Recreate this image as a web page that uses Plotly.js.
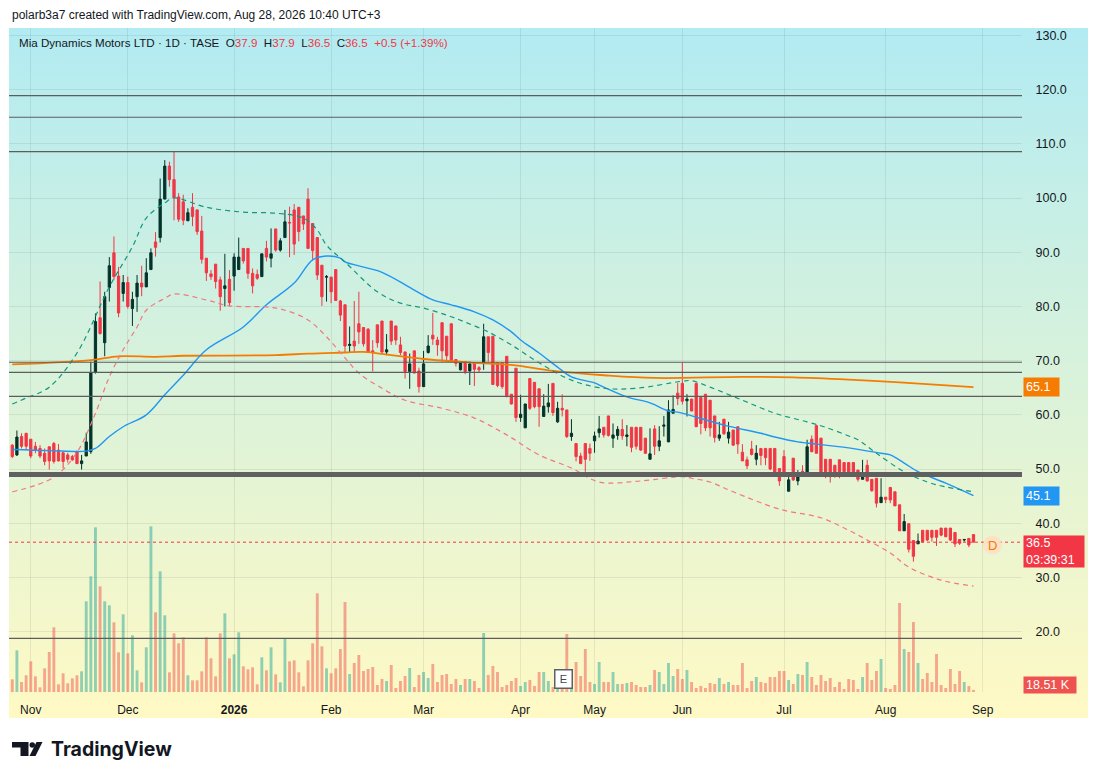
<!DOCTYPE html>
<html>
<head>
<meta charset="utf-8">
<script src="https://cdn.plot.ly/plotly-3.0.1.min.js"></script>
<style>
  html, body { margin: 0; padding: 0; background: #ffffff; }
  #wrap { position: relative; width: 1098px; height: 780px; }
  #bg { position: absolute; left: 9px; top: 28px; width: 1079px; height: 690px;
        background: linear-gradient(#b2ebf2, #fff9c4); }
  #chart { position: absolute; left: 0; top: 0; width: 1098px; height: 780px; }
</style>
</head>
<body>
<div id="wrap"><div id="bg"></div><div id="chart"></div></div>
<script>
// daily bars, Nov 2025 - Aug 28 2026 (one bar per trading day)
var opens = [54.4,52.6,56.0,56.6,55.5,54.2,53.8,52.9,54.1,54.7,53.5,53.0,52.6,52.3,53.2,51.0,52.4,53.2,67.8,77.9,
  73.3,83.5,89.9,85.6,82.4,84.4,79.6,81.8,84.3,83.6,86.8,91.9,92.7,99.8,105.9,103.4,100.2,99.3,95.8,98.3,
  97.8,93.9,88.9,86.0,87.8,84.9,83.3,85.0,85.6,86.8,90.7,90.7,86.1,85.9,85.5,90.7,88.9,94.3,90.4,92.7,
  95.5,97.8,98.3,96.7,99.8,95.3,92.7,87.6,85.4,85.4,86.8,81.0,80.3,72.8,73.6,76.8,76.1,75.8,71.8,76.6,
  77.3,71.6,77.3,76.4,72.9,71.6,68.0,71.8,68.1,65.2,71.5,74.7,73.8,77.0,74.5,76.8,70.2,68.3,69.8,68.1,
  69.6,68.7,69.6,74.4,74.5,69.6,69.6,70.8,63.8,68.6,59.5,57.6,66.7,66.0,64.8,59.7,61.5,65.8,58.7,61.2,
  60.9,56.0,54.7,52.4,54.7,53.8,55.2,56.7,57.7,59.8,55.7,56.2,57.3,56.0,57.7,57.7,57.7,55.7,51.8,57.4,
  54.2,57.9,55.0,60.3,64.0,65.8,62.6,62.9,65.8,63.2,63.8,62.7,59.8,55.7,59.2,55.7,57.2,57.8,53.1,51.7,
  53.7,51.8,53.8,53.8,53.8,53.8,50.1,52.3,45.9,52.0,47.8,49.6,49.2,55.5,58.0,55.7,51.8,51.8,50.7,51.7,
  51.2,51.2,51.2,49.8,48.1,50.7,48.1,48.3,43.8,44.8,46.6,45.8,43.4,38.6,39.9,36.8,36.2,38.7,38.7,38.7,
  38.7,39.1,39.1,39.1,38.3,37.0,36.9,37.2,37.9];
var highs = [54.6,57.1,56.6,56.6,55.5,55.0,54.4,53.8,54.2,55.0,54.6,53.2,53.0,52.6,53.4,52.6,56.7,69.8,78.7,84.6,
  82.7,89.1,92.9,87.3,85.8,85.5,82.7,85.8,87.5,88.9,90.7,93.7,103.6,107.0,106.7,108.5,100.9,100.6,98.1,100.9,
  97.9,96.7,88.9,86.7,87.8,85.5,89.7,86.7,89.8,92.7,90.7,90.7,87.0,86.8,89.7,92.1,94.4,94.3,92.6,97.8,
  98.4,98.9,98.3,96.7,101.8,95.3,92.7,87.6,85.8,85.5,86.8,81.2,80.3,76.3,81.0,82.7,76.1,76.0,73.8,76.6,
  77.3,74.9,77.3,76.4,74.4,71.6,71.3,71.8,68.7,71.8,74.7,78.8,74.4,77.0,74.5,76.8,70.2,69.6,69.8,69.8,
  69.6,69.0,76.8,74.4,74.5,69.6,69.6,70.8,63.8,68.6,63.7,62.0,66.7,66.0,64.8,63.8,65.7,65.8,62.4,63.8,
  60.9,59.2,54.7,53.0,54.7,54.7,56.9,59.8,57.7,59.8,58.4,57.9,59.2,58.1,57.7,57.7,57.7,55.7,57.5,58.1,
  57.9,59.8,62.7,63.6,65.9,69.7,63.8,62.9,65.8,63.2,63.8,62.7,59.8,58.7,59.2,58.7,57.2,57.8,54.6,52.3,
  55.2,54.4,53.8,53.8,53.8,53.8,50.1,53.5,48.8,52.0,49.8,50.7,55.4,56.2,58.2,55.7,51.8,51.8,50.7,51.7,
  51.2,51.2,51.2,49.8,51.7,51.7,48.1,48.3,48.3,44.8,46.6,45.8,43.4,41.7,39.9,36.8,38.1,38.7,38.7,38.7,
  38.7,39.1,39.1,39.1,38.3,37.0,37.0,37.2,37.9];
var lows = [52.0,52.4,53.8,53.6,52.0,52.9,52.0,50.7,49.9,51.0,51.4,50.1,51.2,51.5,50.9,49.9,52.4,52.8,67.6,74.8,
  70.8,80.9,84.9,78.0,80.9,79.6,76.4,79.0,81.9,83.6,86.8,89.2,91.8,99.8,102.1,95.9,95.6,95.0,95.8,94.8,
  93.2,87.9,84.7,84.9,83.3,79.2,80.0,80.0,82.9,86.8,87.9,85.1,82.4,84.9,85.5,88.3,87.2,90.1,90.1,92.7,
  89.1,89.5,92.0,94.1,90.7,88.6,84.9,80.1,80.9,80.6,81.1,77.3,71.5,71.5,71.5,73.1,72.6,71.5,68.0,72.4,
  71.3,71.0,72.9,72.9,71.0,66.7,64.8,67.7,64.1,65.2,71.3,72.9,70.9,69.8,69.8,69.8,68.9,68.2,67.5,65.5,
  65.3,67.8,68.3,69.8,65.5,65.1,64.8,63.2,61.9,58.7,58.7,57.6,60.9,61.2,57.8,59.7,60.4,59.8,58.5,59.7,
  55.7,55.2,51.4,50.9,49.5,51.5,53.0,55.8,55.8,56.0,53.9,55.4,55.4,54.2,53.1,53.6,53.3,52.8,51.8,52.6,
  53.3,56.0,55.0,60.3,61.8,61.9,59.7,60.7,57.8,56.4,57.0,56.0,54.9,55.2,56.3,54.7,54.3,52.8,51.5,50.0,
  52.5,50.7,50.7,50.7,49.8,48.6,46.9,48.8,45.9,47.8,47.0,48.9,49.0,53.1,52.9,48.8,48.3,47.5,48.4,48.3,
  48.9,48.6,48.6,47.7,48.1,47.7,45.8,42.9,43.8,43.7,43.7,43.2,38.6,38.6,34.6,32.9,36.2,36.4,36.7,36.6,
  35.8,37.6,37.5,36.7,35.6,36.0,36.6,35.6,36.5];
var closes = [52.3,55.9,54.2,54.2,52.4,53.5,52.4,51.4,51.5,51.4,51.5,51.4,51.8,51.7,51.0,51.5,55.0,67.8,77.2,75.0,
  81.8,87.5,85.5,78.8,84.4,80.0,81.3,84.3,83.6,86.2,89.9,90.9,99.8,105.9,103.4,100.1,96.1,95.9,97.3,96.6,
  93.8,88.7,86.2,85.5,84.6,81.8,83.8,80.7,89.1,89.1,88.4,86.1,83.8,85.2,89.7,89.1,89.7,90.4,92.1,95.6,
  95.4,91.5,93.8,95.2,90.7,90.3,85.8,81.8,85.5,82.7,81.1,78.4,72.7,73.0,72.7,75.3,73.1,71.6,71.6,73.3,
  71.6,72.0,73.6,73.8,71.5,68.0,69.4,67.7,65.2,69.4,72.7,74.0,72.9,71.8,70.9,70.0,69.5,69.6,68.0,69.4,
  68.4,68.3,74.4,71.5,65.6,65.4,65.2,63.5,62.0,59.5,60.1,62.0,61.2,61.5,61.5,61.6,62.2,60.4,61.2,60.9,
  56.0,56.6,52.3,51.0,51.8,52.9,56.1,57.4,56.3,56.2,56.3,57.3,56.1,56.3,54.0,54.2,53.5,52.9,52.8,54.2,
  55.2,58.1,60.9,61.0,63.0,62.5,62.9,60.7,57.8,58.4,57.6,57.6,55.8,56.3,56.5,56.8,54.4,54.6,51.5,50.6,
  52.7,52.9,52.5,52.1,50.0,49.2,47.8,49.0,48.0,48.0,48.6,49.4,54.1,53.2,52.9,48.9,48.8,48.6,48.9,49.0,
  49.5,49.2,48.9,48.1,48.9,47.8,46.0,43.7,44.8,44.4,44.3,43.2,38.6,40.3,35.2,33.9,36.7,36.6,36.9,37.4,
  37.4,37.8,37.5,36.9,36.2,36.3,37.0,36.0,36.5];
// volume, thousands of shares
var volumes = [114,375,90,150,276,141,42,213,360,582,69,168,78,123,150,186,816,1041,1482,951,
  816,780,627,357,699,348,510,195,87,402,1491,717,1086,690,177,528,438,492,150,105,
  105,186,492,303,141,528,708,303,339,537,231,204,222,69,312,195,402,159,87,483,
  276,285,177,51,285,438,888,411,213,168,213,387,810,162,261,333,189,207,225,63,
  117,99,243,36,99,144,216,45,153,180,126,252,90,153,162,72,117,63,117,117,
  99,36,531,153,234,180,45,63,99,126,54,90,108,54,180,180,99,45,27,36,
  522,27,270,144,387,90,72,270,90,90,180,72,72,81,90,63,45,45,63,198,
  180,72,261,144,207,117,198,90,36,54,36,81,72,126,72,90,63,63,261,36,
  99,135,90,81,135,135,189,189,108,72,162,153,270,135,63,153,99,126,45,90,
  27,117,108,27,135,261,108,189,297,36,27,63,801,387,360,630,261,117,171,90,
  342,63,36,207,72,189,90,54,18.51];

// moving averages / bands (bar index, value)
var ma200Idx = [0,17,23,31,37,57,64,72,76,82,89,100,108,117,128,139,158,169,181,192,208];
var ma200Val = [69.3,70.1,70.8,70.7,70.9,71.0,71.3,71.5,71.6,71.0,70.3,69.6,69.2,68.1,67.3,66.8,67.0,66.9,66.5,66.0,65.1];
var ma50Idx = [0,8,16,18,21,24,29,33,37,42,50,55,61,65,68,71,72,80,87,91,95,100,104,108,110,114,118,121,126,128,133,138,142,144,154,162,165,170,172,181,188,190,193,196,202,208];
var ma50Val = [53.6,53.4,53.3,53.8,56.0,57.8,60.0,63.7,67.3,72.0,76.2,80.3,84.3,88.6,89.3,88.9,88.2,86.3,83.0,81.2,80.3,79.0,77.5,75.3,73.8,71.4,68.8,67.0,65.9,65.1,63.3,62.2,60.7,60.5,58.1,56.6,55.9,55.0,54.8,53.9,52.9,52.6,51.1,49.5,47.4,45.1];
var upIdx = [0,3,8,14,21,26,29,33,35,42,50,57,63,66,68,72,79,84,89,94,98,103,108,114,121,128,135,145,147,151,158,165,172,176,181,183,187,193,198,202,208];
var upVal = [62.0,63.1,65.1,71.4,83.6,91.0,96.3,99.1,100.0,98.3,97.4,97.2,96.3,94.1,91.3,88.2,82.7,80.6,79.7,78.4,77.1,75.3,72.9,69.6,66.4,64.9,64.9,66.2,66.3,65.1,62.7,60.3,58.7,57.7,56.1,55.4,52.9,49.5,47.6,46.7,45.8];
var loIdx = [0,9,14,18,21,24,27,29,33,35,42,47,55,59,64,68,72,75,80,85,93,100,107,114,121,127,136,145,147,151,156,166,175,181,185,190,194,201,208];
var loVal = [45.8,48.5,53.1,60.3,67.0,72.0,76.2,79.3,81.5,82.3,81.2,80.1,79.9,79.3,77.5,74.4,70.5,67.7,64.9,62.7,61.2,59.4,56.3,52.6,50.2,47.6,47.8,48.6,48.3,47.6,45.8,42.6,41.0,38.7,36.9,34.5,31.9,29.5,28.4];

// drawn horizontal levels
var levels = [118.9, 114.9, 108.55, 69.7, 67.85, 63.4, 18.76];
var thickLevel = 49.0;
var lastPrice = 36.5;

var tickIdx = [4, 25, 48, 69, 89, 110, 126, 145, 167, 189, 210];
var tickText = ['Nov', 'Dec', '<b>2026</b>', 'Feb', 'Mar', 'Apr', 'May', 'Jun', 'Jul', 'Aug', 'Sep'];
var priceTicks = [20, 30, 40, 50, 60, 70, 80, 90, 100, 110, 120, 130];

var idx = closes.map(function (c, i) { return i; });
var upCol = '#03332a', dnCol = '#f23645';
var volCols = closes.map(function (c, i) {
  return c >= opens[i] ? 'rgba(38,166,154,0.5)' : 'rgba(239,83,80,0.5)';
});

// pixel helpers for decorations (plot area: x 9..1022, y 28..692)
function PX(x) { return (x - 9) / 1013; }
function PY(y) { return (692 - y) / 664; }

var traces = [
  { type: 'bar', x: idx, y: volumes, yaxis: 'y2', marker: { color: volCols, line: { width: 0 } },
    width: 0.62, hoverinfo: 'skip' },
  { type: 'scatter', mode: 'lines', x: ma200Idx, y: ma200Val,
    line: { color: '#f57c00', width: 1.8, shape: 'spline' }, hoverinfo: 'skip' },
  { type: 'scatter', mode: 'lines', x: ma50Idx, y: ma50Val,
    line: { color: '#2196f3', width: 1.4, shape: 'spline' }, hoverinfo: 'skip' },
  { type: 'scatter', mode: 'lines', x: upIdx, y: upVal,
    line: { color: '#15967f', width: 1.2, dash: '5px,4px', shape: 'spline' }, hoverinfo: 'skip' },
  { type: 'scatter', mode: 'lines', x: loIdx, y: loVal,
    line: { color: '#f4777f', width: 1.2, dash: '5px,4px', shape: 'spline' }, hoverinfo: 'skip' },
  { type: 'candlestick', x: idx, open: opens, high: highs, low: lows, close: closes,
    increasing: { line: { color: upCol, width: 1 }, fillcolor: upCol },
    decreasing: { line: { color: dnCol, width: 1 }, fillcolor: dnCol },
    hoverinfo: 'skip' }
];

var shapes = levels.map(function (v) {
  return { type: 'line', xref: 'paper', x0: 0, x1: 1, yref: 'y', y0: v, y1: v,
    line: { color: '#5d5d5d', width: 1.2 }, layer: 'above' };
});
shapes.push({ type: 'line', xref: 'paper', x0: 0, x1: 1, yref: 'y', y0: thickLevel, y1: thickLevel,
  line: { color: '#606060', width: 5 }, layer: 'above' });
shapes.push({ type: 'line', xref: 'paper', x0: 0, x1: 1, yref: 'y', y0: lastPrice, y1: lastPrice,
  line: { color: '#f23645', width: 1, dash: 'dot' }, layer: 'above' });
// "D" dividend bubble
shapes.push({ type: 'circle', xref: 'paper', yref: 'paper',
  x0: PX(983), x1: PX(1002), y0: PY(554.5), y1: PY(535.5),
  fillcolor: 'rgba(255,222,196,0.85)', line: { width: 0 } });
// TradingView logo mark
shapes.push({ type: 'path', xref: 'paper', yref: 'paper', fillcolor: '#131722', line: { width: 0 },
  path: 'M' + PX(12) + ',' + PY(742) + ' L' + PX(28.5) + ',' + PY(742) + ' L' + PX(28.5) + ',' + PY(756) +
        ' L' + PX(20.5) + ',' + PY(756) + ' L' + PX(20.5) + ',' + PY(747.5) + ' L' + PX(12) + ',' + PY(747.5) + ' Z' });
shapes.push({ type: 'circle', xref: 'paper', yref: 'paper', fillcolor: '#131722', line: { width: 0 },
  x0: PX(29.5), x1: PX(35), y0: PY(747.7), y1: PY(742.2) });
shapes.push({ type: 'path', xref: 'paper', yref: 'paper', fillcolor: '#131722', line: { width: 0 },
  path: 'M' + PX(36.5) + ',' + PY(742) + ' L' + PX(42.5) + ',' + PY(742) + ' L' + PX(35.5) + ',' + PY(756) +
        ' L' + PX(29.5) + ',' + PY(756) + ' Z' });

var red = "<span style='color:#f23645'>";
var annotations = [
  { xref: 'paper', yref: 'paper', x: PX(10), y: PY(15), xanchor: 'left', yanchor: 'middle', showarrow: false,
    text: 'polarb3a7 created with TradingView.com, Aug 28, 2026 10:40 UTC+3',
    font: { size: 12, color: '#131722' } },
  { xref: 'paper', yref: 'paper', x: PX(17), y: PY(42), xanchor: 'left', yanchor: 'middle', showarrow: false,
    text: 'Mia Dynamics Motors LTD · 1D · TASE  O' + red + '37.9</span>  H' + red + '37.9</span>  L' + red +
          '36.5</span>  C' + red + '36.5</span>  ' + red + '+0.5 (+1.39%)</span>',
    font: { size: 11.6, color: '#131722' } },
  { xref: 'paper', yref: 'y', x: PX(1023), y: 65.1, xanchor: 'left', yanchor: 'middle', showarrow: false,
    text: '65.1', align: 'left', width: 31, height: 14, borderpad: 2, bgcolor: '#f57c00',
    font: { size: 12.5, color: '#ffffff' } },
  { xref: 'paper', yref: 'y', x: PX(1023), y: 45.1, xanchor: 'left', yanchor: 'middle', showarrow: false,
    text: '45.1', align: 'left', width: 31, height: 14, borderpad: 2, bgcolor: '#2196f3',
    font: { size: 12.5, color: '#ffffff' } },
  { xref: 'paper', yref: 'paper', x: PX(1023), y: PY(535), xanchor: 'left', yanchor: 'top', showarrow: false,
    text: '36.5<br>03:39:31', align: 'left', width: 56, height: 27, borderpad: 2, bgcolor: '#f23645',
    font: { size: 12.5, color: '#ffffff' } },
  { xref: 'paper', yref: 'paper', x: PX(1023), y: PY(684.5), xanchor: 'left', yanchor: 'middle', showarrow: false,
    text: '18.51 K', align: 'left', width: 48, height: 12, borderpad: 2, bgcolor: '#ef5350',
    font: { size: 12.5, color: '#ffffff' } },
  { xref: 'paper', yref: 'paper', x: PX(992.5), y: PY(545), xanchor: 'center', yanchor: 'middle', showarrow: false,
    text: 'D', font: { size: 13, color: '#f57c00' } },
  { xref: 'paper', yref: 'paper', x: PX(563), y: PY(678.5), xanchor: 'center', yanchor: 'middle', showarrow: false,
    text: 'E', width: 12, height: 13, borderpad: 2, bgcolor: '#ffffff', bordercolor: '#5d606b', borderwidth: 1.5,
    font: { size: 11, color: '#434651' } },
  { xref: 'paper', yref: 'paper', x: PX(49), y: PY(749), xanchor: 'left', yanchor: 'middle', showarrow: false,
    text: '<b>TradingView</b>', font: { size: 19.5, color: '#131722', family: 'Inter, Roboto, sans-serif' } }
];

var layout = {
  width: 1098, height: 780,
  margin: { l: 9, r: 76, t: 28, b: 88 },
  paper_bgcolor: 'rgba(0,0,0,0)', plot_bgcolor: 'rgba(0,0,0,0)',
  font: { family: '"Liberation Sans", Arial, sans-serif', size: 12, color: '#131722' },
  showlegend: false, hovermode: false, dragmode: false,
  xaxis: {
    range: [-0.71, 218.5], rangeslider: { visible: false },
    tickmode: 'array', tickvals: tickIdx, ticktext: tickText,
    showgrid: true, gridcolor: 'rgba(0,0,0,0.07)', zeroline: false, showline: false,
    ticks: 'outside', ticklen: 7, tickcolor: 'rgba(0,0,0,0)',
    tickfont: { size: 12, color: '#131722' }
  },
  yaxis: {
    side: 'right', range: [8.86, 131.37], tickmode: 'array', tickvals: priceTicks,
    tickformat: '.1f', showgrid: true, gridcolor: 'rgba(0,0,0,0.07)', zeroline: false, showline: false,
    ticks: 'outside', ticklen: 10, tickcolor: 'rgba(0,0,0,0)',
    tickfont: { size: 12.5, color: '#131722' }
  },
  yaxis2: { overlaying: 'y', range: [0, 5976], visible: false, showgrid: false, fixedrange: true },
  bargap: 0.35,
  shapes: shapes,
  annotations: annotations
};

Plotly.newPlot('chart', traces, layout, { staticPlot: true, displayModeBar: false });
</script>
</body>
</html>
